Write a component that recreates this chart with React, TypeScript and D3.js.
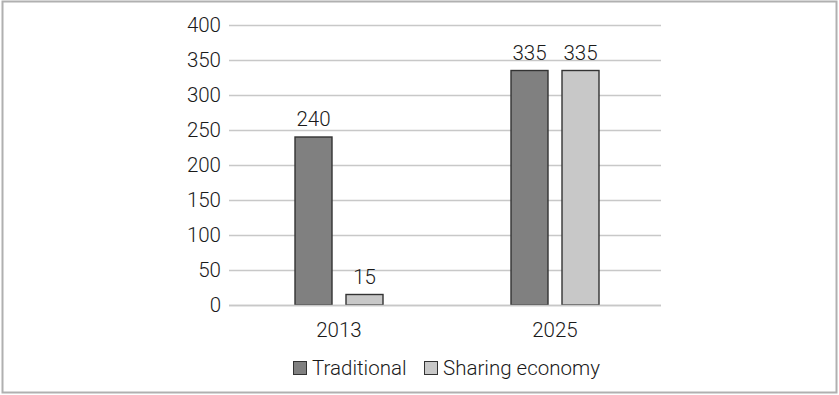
import React from "react";
import * as d3 from "d3";

const categories = ["2013", "2025"];
const seriesNames = ["Traditional", "Sharing economy"];
const traditional = [240, 335];
const sharing = [15, 335];
const yTicks = [0, 50, 100, 150, 200, 250, 300, 350, 400];
const colors = ["#808080", "#c8c8c8"];

export default function App() {
  const W = 839, H = 395;
  const left = 229, right = 661, top = 25, bottom = 305;
  const x = d3.scaleBand<string>().domain(categories).range([left, right]).paddingInner(0).paddingOuter(0);
  const y = d3.scaleLinear().domain([0, 400]).range([bottom, top]);
  const series = [traditional, sharing];
  const barW = 37, gap = 14;
  const font = "Roboto, 'Noto Sans', sans-serif";
  return (
    <svg width={W} height={H} style={{ position: "absolute", left: 0, top: 0 }} fontFamily={font} fontWeight={300}>
      <rect x={2.5} y={1.5} width={834} height={391} fill="#fff" stroke="#b0b0b0" strokeWidth={2} />
      {yTicks.map((t) => (
        <g key={t}>
          <line x1={left} x2={right} y1={y(t) + 0.5} y2={y(t) + 0.5} stroke="#c8c8c8" strokeWidth={1.5} />
          <text x={221} y={y(t)} dy="0.36em" textAnchor="end" fontSize={20.5} fill="#1a1a1a">{t}</text>
        </g>
      ))}
      {categories.map((c, i) => {
        const cx = x(c)! + x.bandwidth() / 2 + 2;
        const groupW = barW * 2 + gap;
        return (
          <g key={c}>
            {series.map((s, j) => {
              const bx = cx - groupW / 2 + j * (barW + gap);
              const v = s[i];
              return (
                <g key={j}>
                  <rect x={bx} y={y(v)} width={barW} height={bottom - y(v)} fill={colors[j]} stroke="#333" strokeWidth={1.4} />
                  <text x={bx + barW / 2} y={y(v) - 11} textAnchor="middle" fontSize={20.5} fill="#1a1a1a">{v}</text>
                </g>
              );
            })}
            <text x={cx} y={337} textAnchor="middle" fontSize={20.5} fill="#1a1a1a">{c}</text>
          </g>
        );
      })}
      <line x1={left} x2={right} y1={bottom + 0.5} y2={bottom + 0.5} stroke="#c8c8c8" strokeWidth={1.5} />
      {seriesNames.map((n, j) => {
        const lx = j === 0 ? 293 : 424;
        return (
          <g key={n}>
            <rect x={lx + 0.5} y={361.5} width={13} height={13} fill={colors[j]} stroke="#333" strokeWidth={1} />
            <text x={lx + 19} y={375} fontSize={20.5} fill="#1a1a1a">{n}</text>
          </g>
        );
      })}
    </svg>
  );
}
